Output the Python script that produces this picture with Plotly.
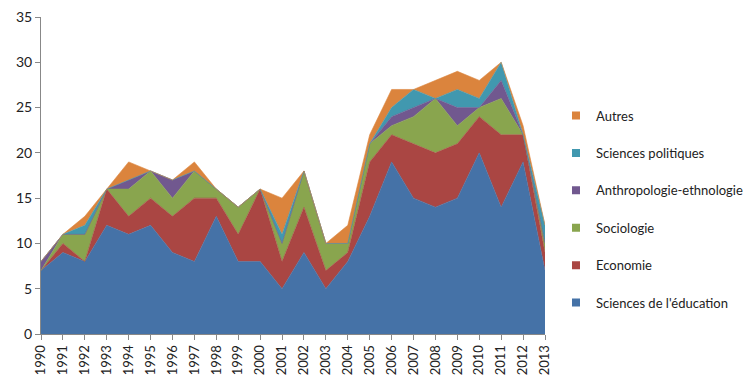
import plotly.graph_objects as go

years = list(range(1990, 2014))
education = [7, 9, 8, 12, 11, 12, 9, 8, 13, 8, 8, 5, 9, 5, 8, 13, 19, 15, 14, 15, 20, 14, 19, 7]
economie = [0, 1, 0, 4, 2, 3, 4, 7, 2, 3, 8, 3, 5, 2, 1, 6, 3, 6, 6, 6, 4, 8, 3, 2]
sociologie = [0, 1, 3, 0, 3, 3, 2, 3, 1, 3, 0, 2, 4, 3, 1, 2, 1, 3, 6, 2, 1, 4, 0, 1]
anthropologie = [1, 0, 0, 0, 1, 0, 2, 0, 0, 0, 0, 0, 0, 0, 0, 0, 1, 1, 0, 2, 0, 2, 0, 0]
sciences_po = [0, 0, 1, 0, 0, 0, 0, 0, 0, 0, 0, 1, 0, 0, 0, 0, 1, 2, 0, 2, 1, 2, 0, 2]
autres = [0, 0, 1, 0, 2, 0, 0, 1, 0, 0, 0, 4, 0, 0, 2, 1, 2, 0, 2, 2, 2, 0, 1, 0]

series = [
    ("Sciences de l'éducation", education, "#4572A7"),
    ("Economie", economie, "#AA4643"),
    ("Sociologie", sociologie, "#89A54E"),
    ("Anthropologie-ethnologie", anthropologie, "#71588F"),
    ("Sciences politiques", sciences_po, "#4198AF"),
    ("Autres", autres, "#DB843D"),
]

fig = go.Figure()
n = len(series)
for i, (name, vals, col) in enumerate(series):
    fig.add_trace(go.Scatter(
        x=years, y=vals, name=name, mode="lines",
        stackgroup="one", showlegend=False,
        line=dict(color=col, width=0.6),
        fillcolor=col,
    ))
# legend entries (square swatches, as in the original)
for i, (name, vals, col) in enumerate(series):
    fig.add_trace(go.Scatter(
        x=[None], y=[None], name=name, mode="markers",
        marker=dict(symbol="square", size=8, color=col),
        legendgroup=f"g{i}", legendrank=n - i, showlegend=True,
    ))

font = "Lato, Open Sans, sans-serif"
fig.update_layout(
    width=754, height=388,
    margin=dict(l=41, r=0, t=17, b=54),
    paper_bgcolor="white", plot_bgcolor="white",
    font=dict(family=font, size=13, color="#333333"),
    showlegend=True,
    legend=dict(
        x=0.7223, xanchor="left", y=0.394, yanchor="middle",
        traceorder="grouped", tracegroupgap=17.5,
        font=dict(family=font, size=13, color="#222222"),
        itemwidth=30,
    ),
    xaxis=dict(
        domain=[0, 504 / 713],
        range=[1990, 2013], tickmode="array", tickvals=years,
        ticktext=[str(y) for y in years], tickangle=-90,
        showgrid=False, showline=True, linecolor="#888888", linewidth=1,
        ticks="outside", ticklen=5, tickcolor="#888888", zeroline=False,
        tickfont=dict(size=13, color="#222222"), automargin=False,
        ticklabeloverflow="allow",
    ),
    yaxis=dict(
        range=[0, 35], tickmode="array", tickvals=list(range(0, 36, 5)),
        showgrid=False, showline=True, linecolor="#888888", linewidth=1,
        ticks="outside", ticklen=5, tickcolor="#888888", zeroline=False,
        tickfont=dict(size=14, color="#222222"), automargin=False,
        ticklabeloverflow="allow",
    ),
)

fig.write_html("out.html", config={"displayModeBar": False},
               post_script="document.body.style.margin='0px';")
